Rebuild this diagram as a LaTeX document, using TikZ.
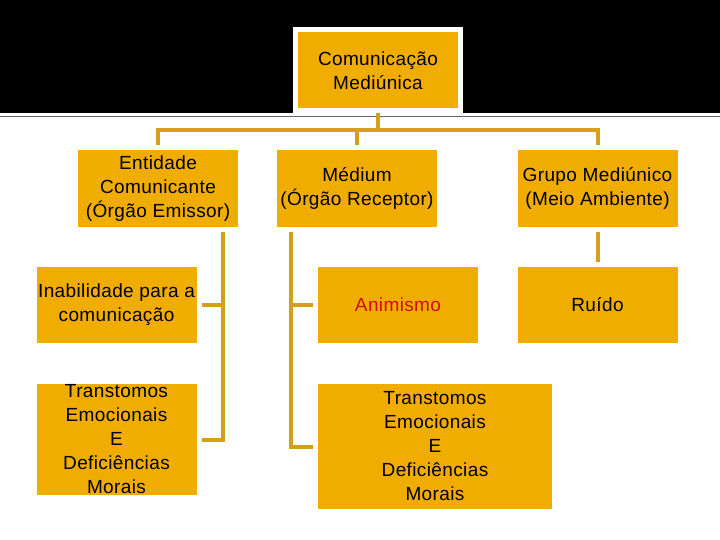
\documentclass[tikz,border=0pt]{standalone}
\usepackage{fontspec}
\setmainfont[LetterSpace=2]{Liberation Sans}
\usepackage{tikz}
\usetikzlibrary{calc,positioning}

\definecolor{boxgold}{RGB}{240,173,0}
\definecolor{linkgold}{RGB}{212,160,26}
\definecolor{darkred}{RGB}{204,16,10}

\begin{document}
\begin{tikzpicture}[
    x=1pt, y=-1pt,
    every node/.style={font=\fontsize{19}{24}\selectfont},
    box/.style={fill=boxgold, inner sep=0pt, outer sep=5pt,
        minimum width=160pt, align=center},
    link/.style={draw=linkgold, line width=4pt}
]

% Canvas and black header band
\useasboundingbox (0,0) rectangle (720,540);
\fill[white] (0,0) rectangle (720,540);
\fill[black] (0,0) rectangle (720,113);
\draw[gray!80!black, line width=1pt] (0,117) -- (720,117);

% Root
\node[box, draw=white, line width=5pt, outer sep=2pt,
      minimum width=165pt, minimum height=81.5pt] (top) at (378,70.25)
    {Comunicação\\Mediúnica};

% First row
\node[box, minimum height=77pt] (ent) at (158,188.5)
    {Entidade\\Comunicante\\(Órgão Emissor)};
\node[box, minimum height=77pt] (med) at (357,188.5)
    {Médium\\(Órgão Receptor)};
\node[box, minimum height=77pt] (grp) at (597.5,188.5)
    {Grupo Mediúnico\\(Meio Ambiente)};

% Second row
\node[box, minimum height=76pt] (ina) at (116.5,305)
    {Inabilidade para a\\comunicação};
\node[box, minimum height=76pt, text=darkred] (ani) at (398,305)
    {Animismo};
\node[box, minimum height=76pt] (rui) at (597.5,305)
    {Ruído};

% Third row
\node[box, minimum height=111pt] (tra1) at (116.5,439.5)
    {Transtomos\\Emocionais\\E\\Deficiências\\Morais};
\node[box, minimum width=234pt, minimum height=125pt] (tra2) at (435,446.5)
    {Transtomos\\Emocionais\\E\\Deficiências\\Morais};

% Root to first row
\coordinate (hub) at (378,130);
\draw[link] (top.south) -- (hub);
\draw[link] (ent.north) |- (hub) -| (grp.north);
\draw[link] (med.north |- hub) -- (med.north);

% Entidade branch
\coordinate (entdrop) at ([xshift=-20pt]ent.south east);
\draw[link] (entdrop) |- (tra1.east);
\draw[link] (ina.east) -- (ina.east -| entdrop);

% Medium branch
\coordinate (meddrop) at ([xshift=19pt]med.south west);
\draw[link] (meddrop) |- (tra2.west);
\draw[link] (ani.west) -- (ani.west -| meddrop);

% Grupo branch
\draw[link] (grp.south) -- (rui.north);

\end{tikzpicture}
\end{document}
